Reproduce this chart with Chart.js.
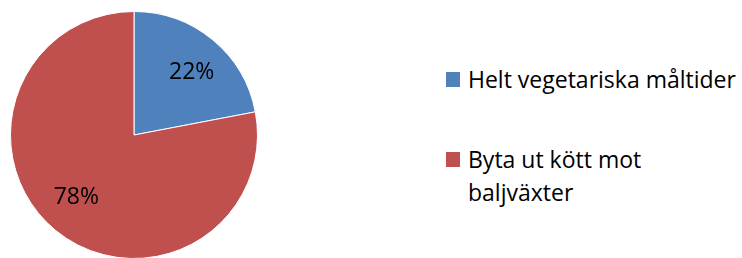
<!DOCTYPE html>
<html><head><meta charset="utf-8">
<script src="https://cdn.jsdelivr.net/npm/chart.js@4/dist/chart.umd.min.js"></script>
<style>
html,body{margin:0;padding:0;background:#fff;width:742px;height:258px;overflow:hidden;}
#wrap{position:absolute;left:0;top:0;width:268px;height:270px;}
#legend{position:absolute;left:446px;top:0;width:296px;font-family:"Open Sans",sans-serif;font-size:23px;color:#000;}
.item{position:absolute;left:0;display:flex;align-items:flex-start;}
.sw{width:14px;height:15px;margin-right:8px;flex:none;}
.tx{line-height:33px;margin-top:-9px;white-space:nowrap;}
</style></head><body>
<div id="wrap"><canvas id="c"></canvas></div>
<div id="legend"></div>
<script>
const categories = ["Helt vegetariska måltider", ["Byta ut kött mot", "baljväxter"]];
const values = [22, 78];
const valueLabels = ["22%", "78%"];
const colors = ["#4F81BD", "#C0504D"];

const labelPlugin = {
  id: 'pctLabels',
  afterDatasetsDraw(chart) {
    const ctx = chart.ctx;
    const meta = chart.getDatasetMeta(0);
    ctx.save();
    ctx.font = '23px "Open Sans", sans-serif';
    ctx.fillStyle = '#000';
    ctx.textAlign = 'center';
    ctx.textBaseline = 'middle';
    meta.data.forEach((arc, i) => {
      const p = arc.getProps(['x','y','startAngle','endAngle','outerRadius'], true);
      const a = (p.startAngle + p.endAngle) / 2 + 3 * Math.PI / 180;
      const r = p.outerRadius * 0.69;
      ctx.fillText(valueLabels[i], p.x + Math.cos(a) * r, p.y + Math.sin(a) * r);
    });
    ctx.restore();
  }
};

const chart = new Chart(document.getElementById('c'), {
  type: 'pie',
  data: {
    labels: categories,
    datasets: [{ data: values, backgroundColor: colors, borderColor: '#ffffff', borderWidth: 1 }]
  },
  options: {
    responsive: true, maintainAspectRatio: false, animation: false,
    layout: { padding: { left: 10, right: 10, top: 11, bottom: 11 } },
    plugins: { legend: { display: false }, tooltip: { enabled: false } }
  },
  plugins: [labelPlugin]
});

// HTML legend built from chart data
const legendTops = [72, 152];
const leg = document.getElementById('legend');
chart.data.labels.forEach((lab, i) => {
  const it = document.createElement('div');
  it.className = 'item';
  it.style.top = legendTops[i] + 'px';
  const sw = document.createElement('div');
  sw.className = 'sw';
  sw.style.background = chart.data.datasets[0].backgroundColor[i];
  const tx = document.createElement('div');
  tx.className = 'tx';
  tx.innerHTML = (Array.isArray(lab) ? lab : [lab]).join('<br>');
  it.appendChild(sw); it.appendChild(tx);
  leg.appendChild(it);
});
</script>
</body></html>
